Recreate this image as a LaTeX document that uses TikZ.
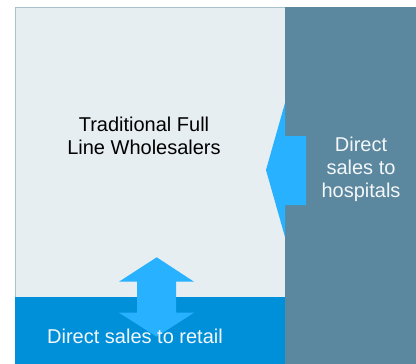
\documentclass[tikz,border=0pt]{standalone}
\usepackage{fontspec}
\setmainfont{Liberation Sans}
\definecolor{paneLight}{HTML}{E7EEF2}
\definecolor{paneEdge}{HTML}{A9C0CD}
\definecolor{paneDark}{HTML}{5B889F}
\definecolor{paneBlue}{HTML}{0090DA}
\definecolor{flowBlue}{HTML}{27B1FF}
\definecolor{softWhite}{HTML}{F4F7F9}
\begin{document}
\begin{tikzpicture}[x=1pt,y=-1pt,
  panel/.style={draw=none},
  flow/.style={fill=flowBlue,draw=none},
  label/.style={font=\fontsize{20}{23}\selectfont,align=center,inner sep=0pt}]
\useasboundingbox (0,0) rectangle (416,364);
% regions
\fill[paneLight] (15,7) rectangle (285,297);
\draw[paneEdge,line width=0.8pt] (15,364) -- (15,7.4) -- (285,7.4);
\fill[paneDark] (285,7) rectangle (416,364);
\fill[paneBlue] (15,297) rectangle (285,364);
% hospital flow arrow
\fill[flow] (266,170) -- (285,103) -- (285,136) -- (306,136) -- (306,205)
  -- (285,205) -- (285,237) -- cycle;
% retail two-way arrow
\fill[flow] (156.7,257.3) -- (194,281.7) -- (176,281.7) -- (176,312.7)
  -- (194,312.7) -- (156.7,336.7) -- (119,312.7) -- (137,312.7)
  -- (137,281.7) -- (119,281.7) -- cycle;
% labels
\node[label,text=black] (wholesalers) at (144,136) {Traditional Full\\Line Wholesalers};
\node[label,text=softWhite] (hospitals) at (361,169.5) {Direct\\sales to\\hospitals};
\node[label,text=softWhite,anchor=base] (retail) at (135,343.3) {Direct sales to retail};
\end{tikzpicture}
\end{document}
